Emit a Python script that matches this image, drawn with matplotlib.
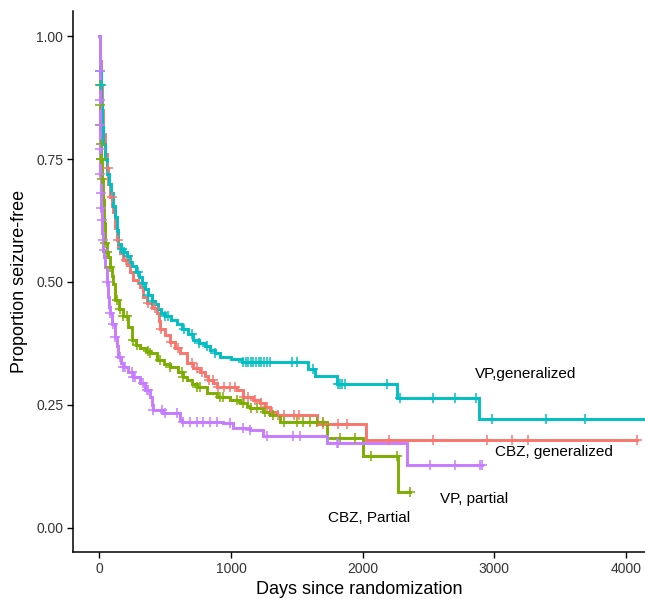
import numpy as np
import matplotlib
matplotlib.use('Agg')
import matplotlib.pyplot as plt

plt.rcParams['font.family'] = ['Liberation Sans', 'DejaVu Sans']

# ---------------- data ----------------
groups = ['CBZ, generalized', 'CBZ, Partial', 'VP,generalized', 'VP, partial']
colors = ['#F8766D', '#7CAE00', '#00BFC4', '#C77CFF']

# CBZ, generalized (event times, survival after event)
t_cbz_gen = [5, 10, 18, 28, 40, 55, 68, 80, 95, 105, 118, 131, 143, 156, 180, 207, 230,
             257, 290, 308, 333, 358, 400, 435, 450, 460, 500, 536, 575, 612, 663, 713,
             764, 800, 827, 865, 890, 1043, 1093, 1169, 1220, 1260, 1296, 1347, 1650, 2022]
s_cbz_gen = [0.95, 0.90, 0.85, 0.80, 0.76, 0.731, 0.70, 0.673, 0.655, 0.643, 0.61, 0.585,
             0.572, 0.558, 0.545, 0.535, 0.52, 0.504, 0.497, 0.49, 0.47, 0.457, 0.447,
             0.436, 0.42, 0.405, 0.393, 0.378, 0.366, 0.355, 0.335, 0.325, 0.318, 0.308,
             0.30, 0.294, 0.286, 0.28, 0.267, 0.26, 0.253, 0.245, 0.236, 0.23, 0.211, 0.179]
end_cbz_gen = 4085
c_cbz_gen = [65, 93, 140, 200, 370, 420, 470, 540, 600, 700, 740, 780, 830, 860, 900,
             950, 990, 1030, 1100, 1130, 1180, 1230, 1270, 1310, 1360, 1400, 1480, 1520,
             1700, 1815, 1878, 2202, 2532, 2947, 3132, 3259, 4085]

# CBZ, Partial
t_cbz_par = [1, 2, 3, 5, 8, 12, 17, 24, 33, 42, 55, 67, 80, 93, 105, 118, 150, 181, 219,
             245, 275, 308, 350, 384, 435, 490, 536, 599, 637, 663, 700, 739, 815, 890,
             992, 1068, 1119, 1144, 1245, 1296, 1372, 1726, 2005, 2266]
s_cbz_par = [0.95, 0.90, 0.86, 0.82, 0.78, 0.75, 0.71, 0.667, 0.62, 0.58, 0.56, 0.55,
             0.53, 0.512, 0.495, 0.463, 0.445, 0.43, 0.409, 0.383, 0.372, 0.366, 0.36,
             0.356, 0.342, 0.333, 0.327, 0.318, 0.307, 0.30, 0.293, 0.287, 0.274, 0.267,
             0.26, 0.253, 0.247, 0.243, 0.236, 0.229, 0.215, 0.183, 0.147, 0.072]
end_cbz_par = 2360
c_cbz_par = [2.5, 4, 6, 9, 13, 15, 20, 45, 60, 80, 131, 156, 181, 207, 257, 282, 371,
             384, 460, 536, 625, 637, 739, 764, 916, 941, 1043, 1093, 1150, 1200, 1260,
             1320, 1400, 1500, 1550, 1600, 1650, 1700, 1828, 1941, 2063, 2258, 2360]

# VP, generalized
t_vp_gen = [3, 6, 10, 15, 22, 30, 40, 55, 70, 85, 100, 118, 130, 143, 160, 185, 207, 230,
            250, 280, 300, 320, 346, 370, 397, 420, 445, 470, 500, 540, 587, 630, 670,
            713, 760, 800, 840, 880, 916, 1000, 1080, 1587, 1640, 1805, 2258, 2884]
s_vp_gen = [0.96, 0.93, 0.90, 0.86, 0.82, 0.78, 0.75, 0.72, 0.70, 0.68, 0.655, 0.633,
            0.605, 0.578, 0.567, 0.56, 0.553, 0.54, 0.532, 0.52, 0.51, 0.497, 0.485,
            0.473, 0.462, 0.455, 0.445, 0.437, 0.43, 0.423, 0.415, 0.405, 0.395, 0.383,
            0.375, 0.37, 0.362, 0.355, 0.348, 0.343, 0.338, 0.323, 0.309, 0.292, 0.264,
            0.221]
end_vp_gen = 4200
c_vp_gen = [7, 12, 170, 190, 215, 290, 330, 370, 400, 500, 520, 640, 700, 760, 820, 880,
            1093, 1110, 1130, 1150, 1170, 1190, 1210, 1230, 1250, 1270, 1295, 1460, 1498,
            1622, 1815, 1828, 1845, 1866, 2182, 2283, 2537, 2701, 2859, 2980, 3393, 3689]

# VP, partial
t_vp_par = [1, 2, 3, 4, 6, 8, 12, 17, 22, 26, 29, 36, 42, 55, 67, 75, 80, 95, 118, 130,
            143, 160, 181, 220, 257, 308, 346, 384, 400, 409, 485, 612, 630, 941, 1017,
            1144, 1245, 1726, 2339]
s_vp_par = [0.93, 0.87, 0.82, 0.77, 0.72, 0.68, 0.65, 0.626, 0.60, 0.585, 0.565, 0.55,
            0.531, 0.50, 0.47, 0.45, 0.436, 0.415, 0.389, 0.37, 0.348, 0.335, 0.328,
            0.318, 0.307, 0.294, 0.28, 0.267, 0.25, 0.24, 0.233, 0.22, 0.216, 0.213,
            0.204, 0.199, 0.187, 0.172, 0.128]
end_vp_par = 2904
c_vp_par = [1.5, 2.5, 3.5, 5, 7, 10, 14, 20, 27, 33, 55, 80, 105, 118, 156, 181, 194,
            245, 257, 270, 333, 358, 371, 409, 473, 498, 587, 637, 688, 739, 789, 840,
            890, 992, 1093, 1144, 1270, 1473, 1524, 1802, 1815, 2511, 2701, 2891, 2904]

label_x = [3005, 1736, 2853, 2587]
label_y = [0.154, 0.020, 0.313, 0.059]

x_ticks = [0, 1000, 2000, 3000, 4000]
y_ticks = [0.00, 0.25, 0.50, 0.75, 1.00]

# ---------------- plot ----------------
W, H = 645, 599
fig = plt.figure(figsize=(W / 100, H / 100), dpi=100)
ax = fig.add_axes([73 / W, (H - 552) / H, (W - 73) / W, (552 - 11) / H])

series = [
    (t_cbz_gen, s_cbz_gen, end_cbz_gen, c_cbz_gen),
    (t_cbz_par, s_cbz_par, end_cbz_par, c_cbz_par),
    (t_vp_gen, s_vp_gen, end_vp_gen, c_vp_gen),
    (t_vp_par, s_vp_par, end_vp_par, c_vp_par),
]

for (t, s, end, cens), col in zip(series, colors):
    tt = np.array([0] + list(t) + [end], dtype=float)
    ss = np.array([1.0] + list(s) + [s[-1]], dtype=float)
    ax.step(tt, ss, where='post', color=col, lw=2.1, solid_joinstyle='miter', zorder=2)
    cens = np.array(cens, dtype=float)
    idx = np.searchsorted(tt, cens, side='right') - 1
    ax.plot(cens, ss[idx], linestyle='none', marker='+', markersize=7,
            mew=1.1, color=col, zorder=3)

for g, x, y in zip(groups, label_x, label_y):
    ax.text(x, y, g, fontsize=11, color='black', ha='left', va='center')

ax.set_xlim(-201, (W - 73) / 0.1316 - 201)
ax.set_ylim(-0.049, 1.051)
ax.set_xticks(x_ticks)
ax.set_yticks(y_ticks)
ax.set_yticklabels([f'{v:.2f}' for v in y_ticks])
ax.tick_params(axis='both', length=4, width=1, color='black', labelsize=10,
               labelcolor='#333333', pad=3)
for side in ['top', 'right']:
    ax.spines[side].set_visible(False)
for side in ['left', 'bottom']:
    ax.spines[side].set_linewidth(1.1)
    ax.spines[side].set_color('black')

ax.set_xlabel('Days since randomization', fontsize=13, labelpad=4)
ax.set_ylabel('Proportion seizure-free', fontsize=13, labelpad=6)

fig.savefig('out.png', dpi=100)
